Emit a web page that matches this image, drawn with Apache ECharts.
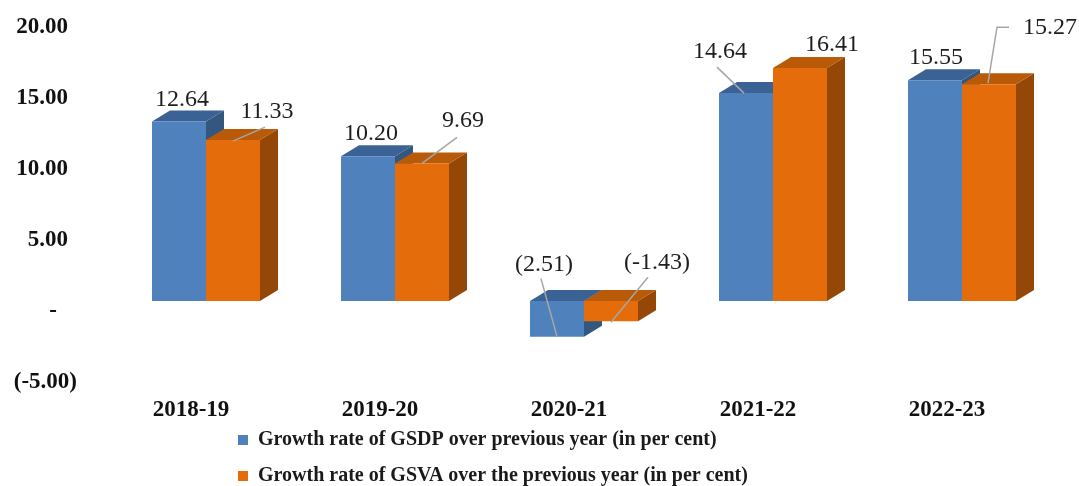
<!DOCTYPE html>
<html><head><meta charset="utf-8">
<script src="https://cdn.jsdelivr.net/npm/echarts@6/dist/echarts.min.js"></script>
<style>html,body{margin:0;padding:0;background:#fff}#c{width:1079px;height:486px}</style>
</head><body><div id="c"></div>
<script>
const categories = ['2018-19', '2019-20', '2020-21', '2021-22', '2022-23'];
const gsdpValues = [12.64, 10.20, -2.51, 14.64, 15.55];
const gsvaValues = [11.33, 9.69, -1.43, 16.41, 15.27];
const seriesNames = [
  'Growth rate of GSDP over previous year (in per cent)',
  'Growth rate of GSVA over the previous year (in per cent)'
];
const yMin = -5, yMax = 20, yStep = 5;

// label placement relative to the bar end (front face centre), plus leader lines
const gsdpLabelLayout = [
  {dx: 3, dy: -22},
  {dx: 3, dy: -22},
  {dx: -13, dy: -72, line: [[-16, -58], [0, 0]]},
  {dx: -26, dy: -41, line: [[-29, -26], [-2, 0]]},
  {dx: 1, dy: -22}
];
const gsvaLabelLayout = [
  {dx: 34, dy: -28, line: [[0, 1], [32, -13]]},
  {dx: 41, dy: -43, line: [[0, 0], [35, -26]]},
  {dx: 46, dy: -59, line: [[37, -44], [0, 1]]},
  {dx: 32, dy: -23},
  {dx: 61, dy: -56, line: [[20, -57], [8, -57], [-1, -1]]}
];

const BAR_FRAC = 54 / 189;
const DEPTH_X = 18, DEPTH_Y = -11;
const SERIF = '"Liberation Serif", "Times New Roman", serif';

function fmtGsdp(v) { return v < 0 ? '(' + Math.abs(v).toFixed(2) + ')' : v.toFixed(2); }
function fmtGsva(v) { return v < 0 ? '(' + v.toFixed(2) + ')' : v.toFixed(2); }

function makeRender(side, colors, layout, fmt) {
  return function (params, api) {
    const i = api.value(0), v = api.value(1);
    const base = api.coord([i, 0]);
    const end = api.coord([i, v]);
    const band = api.size([1, 0])[0];
    const w = band * BAR_FRAC;
    const cx = base[0];
    const x0 = side < 0 ? cx - w : cx;
    const x1 = x0 + w;
    const yTop = Math.min(base[1], end[1]);
    const yBot = Math.max(base[1], end[1]);
    const dx = DEPTH_X, dy = DEPTH_Y;
    const children = [
      {type: 'polygon', shape: {points: [[x1, yTop], [x1 + dx, yTop + dy], [x1 + dx, yBot + dy], [x1, yBot]]}, style: {fill: colors.side}},
      {type: 'polygon', shape: {points: [[x0, yTop], [x0 + dx, yTop + dy], [x1 + dx, yTop + dy], [x1, yTop]]}, style: {fill: colors.top}},
      {type: 'rect', shape: {x: x0, y: yTop, width: w, height: yBot - yTop}, style: {fill: colors.front}}
    ];
    const L = layout[params.dataIndex];
    const ax = (x0 + x1) / 2, ay = end[1];
    if (L.line) {
      children.push({type: 'polyline', shape: {points: L.line.map(p => [ax + p[0], ay + p[1]])},
        style: {stroke: '#a6a6a6', lineWidth: 1.5, fill: null}});
    }
    children.push({type: 'text', x: ax + L.dx, y: ay + L.dy,
      style: {text: fmt(v), fill: '#1e1e1e', font: '24px ' + SERIF, align: 'center', verticalAlign: 'middle'}});
    return {type: 'group', children: children};
  };
}

const legendText = {fontFamily: SERIF, fontWeight: 'bold', fontSize: 20, color: '#1a1a1a', padding: [0, 0, 0, 5]};

const chart = echarts.init(document.getElementById('c'), null, {renderer: 'canvas'});
chart.setOption({
  animation: false,
  backgroundColor: '#ffffff',
  grid: {left: 111.5, right: 22.5, top: 17, bottom: 114, containLabel: false},
  legend: [
    {left: 233, top: 425, itemWidth: 10, itemHeight: 10, icon: 'rect', data: [seriesNames[0]], textStyle: legendText},
    {left: 233, top: 461, itemWidth: 10, itemHeight: 10, icon: 'rect', data: [seriesNames[1]], textStyle: legendText}
  ],
  xAxis: {
    type: 'category', data: categories,
    axisLine: {show: false, onZero: false}, axisTick: {show: false}, splitLine: {show: false},
    axisLabel: {fontFamily: SERIF, fontWeight: 'bold', fontSize: 23, color: '#111', margin: 27, padding: [0, 30, 0, 0]}
  },
  yAxis: {
    type: 'value', min: yMin, max: yMax, interval: yStep,
    axisLine: {show: false}, axisTick: {show: false}, splitLine: {show: false},
    axisLabel: {
      fontFamily: SERIF, fontWeight: 'bold', fontSize: 23, color: '#111', margin: 34.5,
      padding: [20, 0, 0, 0],
      formatter: function (v) {
        if (v > 0) return v.toFixed(2) + '{p| }';
        if (v === 0) return '-{q| }';
        return '(' + v.toFixed(2) + ')';
      },
      rich: {
        p: {width: 9, fontSize: 23, fontFamily: SERIF},
        q: {width: 20, fontSize: 23, fontFamily: SERIF}
      }
    }
  },
  series: [
    {
      name: seriesNames[0], type: 'custom', itemStyle: {color: '#4f81bd'},
      renderItem: makeRender(-1, {front: '#4f81bd', top: '#3b6295', side: '#34577f'}, gsdpLabelLayout, fmtGsdp),
      data: gsdpValues.map((v, i) => [i, v]), encode: {x: 0, y: 1}
    },
    {
      name: seriesNames[1], type: 'custom', itemStyle: {color: '#e46c0a'},
      renderItem: makeRender(1, {front: '#e46c0a', top: '#b85a07', side: '#944707'}, gsvaLabelLayout, fmtGsva),
      data: gsvaValues.map((v, i) => [i, v]), encode: {x: 0, y: 1}
    }
  ]
});
</script>
</body></html>
